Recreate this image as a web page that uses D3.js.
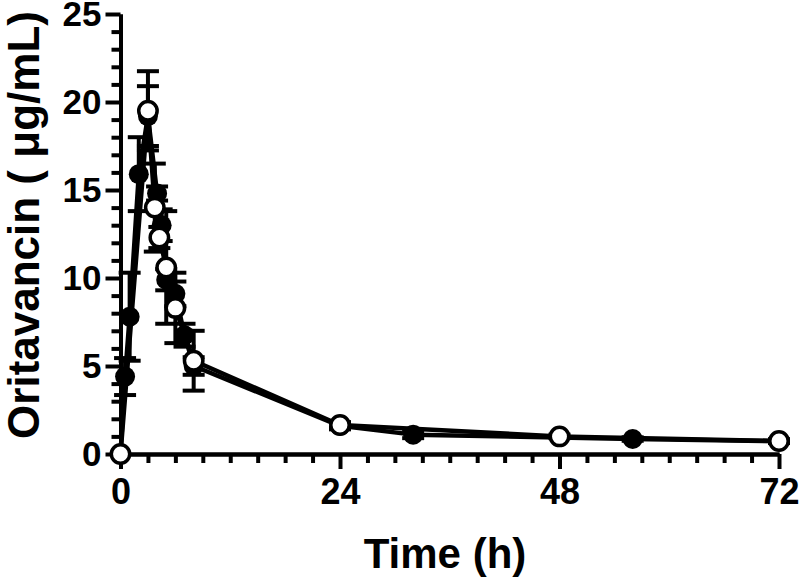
<!DOCTYPE html>
<html>
<head>
<meta charset="utf-8">
<script src="https://cdn.jsdelivr.net/npm/d3@7"></script>
<style>
  html, body { margin: 0; padding: 0; background: #fff; }
  svg { display: block; }
  text { font-family: "Liberation Sans", Arial, sans-serif; font-weight: bold; fill: #000; }
</style>
</head>
<body>
<svg id="chart" width="800" height="579"></svg>
<script>
// ---- Data ----
const filledTime = [0, 0.5, 1, 2, 3, 4, 4.5, 5, 6, 7, 8, 24, 32, 56, 72];
const filledConc = [0, 4.4, 7.8, 15.9, 19.2, 14.8, 13.0, 9.9, 9.1, 6.75, 5.0, 1.6, 1.1, 0.85, 0.72];
const filledSD   = [0, 1.05, 2.5, 2.1, 1.7, 0.4, 0.9, 0.6, 0.7, 0.65, 0.5, 0.2, 0.2, 0.1, 0.1];

const openTime = [0, 3, 3.75, 4.25, 5, 6, 8, 24, 48, 72];
const openConc = [0, 19.5, 14.0, 12.3, 10.6, 8.3, 5.3, 1.65, 1.0, 0.74];
const openSD   = [0, 2.25, 2.5, 0.6, 3.2, 2.0, 1.7, 0.15, 0.1, 0.1];

const xMajorTicks = [0, 24, 48, 72];
const yMajorTicks = [0, 5, 10, 15, 20, 25];
const xLabel = "Time (h)";
const yLabel = "Oritavancin ( \u03bcg/mL)";

// ---- Layout ----
const svg = d3.select("#chart");
const x = d3.scaleLinear().domain([0, 72]).range([120.5, 779]);
const y = d3.scaleLinear().domain([0, 25]).range([454, 14]);

const filled = filledTime.map((t, i) => ({t, c: filledConc[i], sd: filledSD[i]}));
const open = openTime.map((t, i) => ({t, c: openConc[i], sd: openSD[i]}));

// ---- Axes ----
const xMinor = d3.range(0, 73, 3).filter(v => v % 24 !== 0);
const yMinor = d3.range(0, 26, 1).filter(v => v % 5 !== 0);

function styleAxis(g) {
  g.selectAll("path.domain").attr("stroke", "#000").attr("stroke-width", 4);
  g.selectAll(".tick line").attr("stroke", "#000").attr("stroke-width", 4);
}

svg.append("g").attr("transform", `translate(0,${y(0)})`)
  .call(d3.axisBottom(x).tickValues(xMinor).tickSize(9).tickSizeOuter(0).tickFormat(""))
  .call(styleAxis);
const gx = svg.append("g").attr("transform", `translate(0,${y(0)})`)
  .call(d3.axisBottom(x).tickValues(xMajorTicks).tickSize(15).tickSizeOuter(0).tickPadding(9))
  .call(styleAxis);
gx.selectAll(".tick text").attr("font-size", 36).attr("font-family", "Liberation Sans, Arial, sans-serif").attr("font-weight", "bold").attr("fill", "#000");

svg.append("g").attr("transform", `translate(${x(0)},0)`)
  .call(d3.axisLeft(y).tickValues(yMinor).tickSize(9).tickSizeOuter(0).tickFormat(""))
  .call(styleAxis);
const gy = svg.append("g").attr("transform", `translate(${x(0)},0)`)
  .call(d3.axisLeft(y).tickValues(yMajorTicks).tickSize(15).tickSizeOuter(0).tickPadding(4))
  .call(styleAxis);
gy.selectAll(".tick text").attr("font-size", 35).attr("font-family", "Liberation Sans, Arial, sans-serif").attr("font-weight", "bold").attr("fill", "#000");

// Axis titles
svg.append("text")
  .attr("x", 445).attr("y", 568)
  .attr("text-anchor", "middle").attr("font-size", 42)
  .text(xLabel);
svg.append("text")
  .attr("transform", `translate(39,225) rotate(-90)`)
  .attr("text-anchor", "middle").attr("font-size", 44)
  .text(yLabel);

// ---- Series ----
const line = d3.line().x(d => x(d.t)).y(d => y(d.c));
const capW = 11;

function drawSeries(data) {
  const g = svg.append("g");
  const eb = data.filter(d => d.sd > 0);
  g.selectAll("line.stem").data(eb).join("line")
    .attr("x1", d => x(d.t)).attr("x2", d => x(d.t))
    .attr("y1", d => y(d.c + d.sd)).attr("y2", d => y(d.c - d.sd))
    .attr("stroke", "#000").attr("stroke-width", 4);
  g.selectAll("line.capTop").data(eb).join("line")
    .attr("x1", d => x(d.t) - capW).attr("x2", d => x(d.t) + capW)
    .attr("y1", d => y(d.c + d.sd)).attr("y2", d => y(d.c + d.sd))
    .attr("stroke", "#000").attr("stroke-width", 4);
  g.selectAll("line.capBot").data(eb).join("line")
    .attr("x1", d => x(d.t) - capW).attr("x2", d => x(d.t) + capW)
    .attr("y1", d => y(d.c - d.sd)).attr("y2", d => y(d.c - d.sd))
    .attr("stroke", "#000").attr("stroke-width", 4);
  g.append("path").datum(data)
    .attr("d", line).attr("fill", "none").attr("stroke", "#000")
    .attr("stroke-width", 4.5).attr("stroke-linejoin", "round");
  return g;
}

const gF = drawSeries(filled);
const gO = drawSeries(open);

gF.selectAll("circle").data(filled).join("circle")
  .attr("cx", d => x(d.t)).attr("cy", d => y(d.c)).attr("r", 10)
  .attr("fill", "#000");
gO.selectAll("circle").data(open).join("circle")
  .attr("cx", d => x(d.t)).attr("cy", d => y(d.c)).attr("r", 9.2)
  .attr("fill", "#fff").attr("stroke", "#000").attr("stroke-width", 3.5);
</script>
</body>
</html>
